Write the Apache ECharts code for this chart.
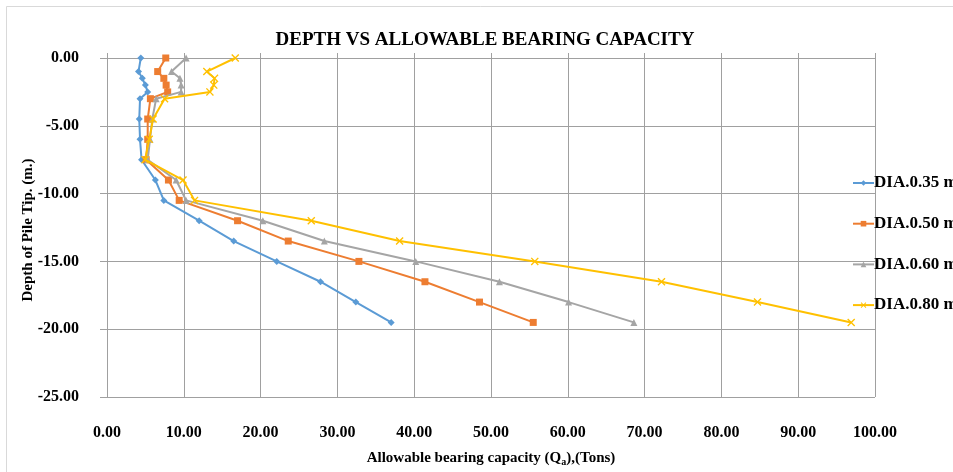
<!DOCTYPE html>
<html>
<head>
<meta charset="utf-8">
<script src="https://cdn.jsdelivr.net/npm/echarts@6/dist/echarts.min.js"></script>
<style>
html,body{margin:0;padding:0;background:#fff;overflow:hidden;}
#c{width:953px;height:472px;}
</style>
</head>
<body>
<div id="c"></div>
<script>
const depths = [0, -1, -1.5, -2, -2.5, -3, -4.5, -6, -7.5, -9, -10.5, -12, -13.5, -15, -16.5, -18, -19.5];
const dia035 = [4.4, 4.1, 4.6, 5.0, 5.3, 4.3, 4.2, 4.3, 4.5, 6.3, 7.4, 12.0, 16.5, 22.1, 27.8, 32.4, 37.0];
const dia050 = [7.65, 6.6, 7.4, 7.7, 7.9, 5.65, 5.3, 5.3, 5.1, 8.0, 9.4, 17.0, 23.6, 32.8, 41.4, 48.5, 55.5];
const dia060 = [10.3, 8.4, 9.5, 9.65, 9.65, 6.4, 5.9, 5.6, 5.3, 9.0, 10.3, 20.3, 28.3, 40.2, 51.1, 60.1, 68.6];
const dia080 = [16.7, 13.0, 14.0, 13.9, 13.4, 7.5, 6.0, 5.5, 4.95, 9.9, 11.4, 26.6, 38.1, 55.7, 72.2, 84.7, 96.9];
const seriesNames = ['DIA.0.35 m.', 'DIA.0.50 m.', 'DIA.0.60 m.', 'DIA.0.80 m.'];
const xTicks = {min: 0, max: 100, interval: 10};
const yTicks = {min: -25, max: 0, interval: 5};

const serif = '"Liberation Serif","Times New Roman",serif';
const colors = ['#5b9bd5', '#ed7d31', '#a5a5a5', '#ffc000'];
const xSym = 'path://M0,1.2 L1.2,0 L5,3.8 L8.8,0 L10,1.2 L6.2,5 L10,8.8 L8.8,10 L5,6.2 L1.2,10 L0,8.8 L3.8,5 Z';
const symbols = ['diamond', 'rect', 'triangle', xSym];
const symSizes = [7, 7, 7, 8];
const allData = [dia035, dia050, dia060, dia080];

function pairs(xs){ return xs.map((v,i)=>[v, depths[i]]); }

const chart = echarts.init(document.getElementById('c'), null, {width: 953, height: 472});

chart.setOption({
  animation: false,
  backgroundColor: '#fff',
  graphic: [{
    type: 'rect', shape: {x: 6.5, y: 6.5, width: 1000, height: 1000},
    style: {fill: 'none', stroke: '#d9d9d9', lineWidth: 1}, silent: true, z: -10
  }, {
    type: 'text', x: 28, y: 230, rotation: Math.PI / 2,
    style: {text: 'Depth of Pile Tip. (m.)', fill: '#000', align: 'center', verticalAlign: 'middle',
      font: 'bold 15px ' + serif}
  }],
  title: {
    text: 'DEPTH VS ALLOWABLE BEARING CAPACITY',
    left: 485, top: 30, padding: 0, textAlign: 'center',
    textStyle: {fontFamily: serif, fontWeight: 'bold', fontSize: 19, lineHeight: 20, color: '#000'}
  },
  legend: {
    orient: 'vertical', left: 852, top: 174.5, padding: 0, itemGap: 23.7,
    itemWidth: 21, itemHeight: 7,
    textStyle: {fontFamily: serif, fontWeight: 'bold', fontSize: 17, lineHeight: 17, color: '#000', padding: [0,0,0,-5]},
    data: seriesNames
  },
  grid: {left: 107, width: 768, top: 58, height: 342, containLabel: false},
  xAxis: [{
    type: 'value', position: 'bottom', min: xTicks.min, max: xTicks.max, interval: xTicks.interval,
    axisLine: {show: false}, axisTick: {show: false},
    axisLabel: {margin: 28, formatter: v => v.toFixed(2), fontFamily: serif, fontWeight: 'bold', fontSize: 16, color: '#000'},
    splitLine: {show: true, lineStyle: {color: '#a0a0a0', width: 1}},
    name: 'Allowable bearing capacity (Q{sub|a}),(Tons)', nameLocation: 'middle', nameGap: 53,
    nameTextStyle: {fontFamily: serif, fontWeight: 'bold', fontSize: 15, color: '#000',
      rich: {sub: {fontFamily: serif, fontWeight: 'bold', fontSize: 10, color: '#000', verticalAlign: 'bottom', padding: [7,0,0,0]}}}
  }, {
    type: 'value', position: 'top', min: xTicks.min, max: xTicks.max, interval: xTicks.interval,
    axisLine: {show: true, lineStyle: {color: '#a0a0a0'}},
    axisTick: {show: true, length: 5, lineStyle: {color: '#a0a0a0'}},
    axisLabel: {show: false}, splitLine: {show: false}
  }],
  yAxis: {
    type: 'value', min: yTicks.min, max: yTicks.max, interval: yTicks.interval,
    axisLine: {show: true, lineStyle: {color: '#a0a0a0'}},
    axisTick: {show: true, length: 7, lineStyle: {color: '#a0a0a0'}},
    axisLabel: {margin: 28, formatter: v => v.toFixed(2), fontFamily: serif, fontWeight: 'bold', fontSize: 16, color: '#000'},
    splitLine: {show: true, lineStyle: {color: '#a0a0a0', width: 1}}
  },
  series: allData.map((d, i) => ({
    name: seriesNames[i], type: 'line', xAxisIndex: 0,
    data: pairs(d),
    symbol: symbols[i], symbolSize: symSizes[i], showSymbol: true,
    lineStyle: {color: colors[i], width: 2},
    itemStyle: {color: colors[i]},
    z: 3 + i
  }))
});
</script>
</body>
</html>
